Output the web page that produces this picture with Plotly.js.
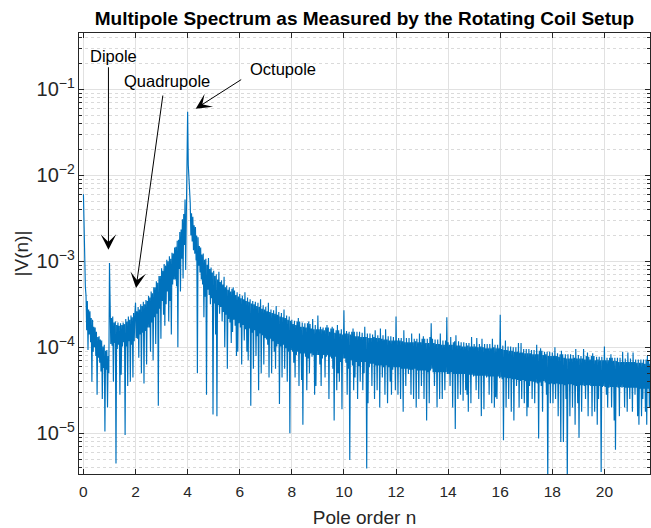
<!DOCTYPE html>
<html>
<head>
<meta charset="utf-8">
<script src="https://cdn.plot.ly/plotly-3.0.1.min.js"></script>
<style>html,body{margin:0;padding:0;background:#fff;}#chart{width:651px;height:528px;}</style>
</head>
<body>
<div id="chart"></div>
<script>
// Pole order sampling of the measured spectrum
const nStart = 0;
const nStep = 0.025;

// log10 |V(n)|, n = 0.000 ... 3.975
const logV_0to4 = [
-2.22,-2.70,-3.05,-3.30,-3.40,-3.80,-3.46,-4.03,-3.56,-3.85,-3.58,-3.94,-3.66,-4.40,-3.68,-4.05,-3.76,-4.00,-3.77,-4.10,
-3.82,-4.55,-3.88,-4.12,-3.87,-4.18,-3.91,-4.28,-3.92,-4.60,-3.99,-4.24,-3.97,-4.98,-4.04,-4.26,-4.03,-4.70,-4.10,-4.30,
-3.02,-3.60,-3.96,-3.66,-3.98,-3.64,-4.40,-3.71,-3.95,-3.70,-5.35,-3.74,-4.02,-3.71,-3.97,-3.75,-4.55,-3.72,-4.32,-3.74,
-3.99,-3.71,-3.94,-3.73,-5.02,-3.67,-3.99,-3.70,-4.45,-3.64,-3.93,-3.68,-4.40,-3.63,-3.97,-3.65,-4.35,-3.60,-3.93,-3.61,
-3.48,-3.89,-3.58,-3.90,-3.53,-4.12,-3.56,-3.85,-3.50,-4.30,-3.52,-3.83,-3.47,-4.42,-3.50,-3.81,-3.45,-4.20,-3.46,-3.77,
-3.40,-3.77,-3.42,-4.05,-3.35,-3.71,-3.37,-4.15,-3.30,-3.65,-3.30,-3.96,-3.23,-3.61,-3.25,-4.68,-3.17,-3.55,-3.17,-3.90,
-3.08,-3.46,-3.11,-3.62,-3.03,-3.75,-3.05,-3.50,-2.98,-3.35,-3.00,-3.70,-2.94,-3.46,-2.97,-3.85,-2.90,-3.27,-2.91,-3.21,
-2.84,-3.21,-2.83,-3.29,-2.76,-4.00,-2.75,-3.09,-2.66,-3.35,-2.63,-2.97,-2.51,-3.20,-2.45,-2.81,-2.28,-3.10,-2.13,-1.90
];
// n = 4.000 ... 7.975
const logV_4to8 = [
-1.26,-1.88,-2.05,-2.22,-2.32,-2.70,-2.44,-2.77,-2.48,-2.87,-2.58,-2.91,-2.60,-2.99,-2.70,-4.30,-2.72,-3.05,-2.82,-3.13,
-2.84,-3.21,-2.92,-3.27,-2.91,-3.65,-2.98,-3.41,-2.97,-4.55,-3.04,-3.33,-2.96,-3.39,-3.09,-3.50,-3.07,-3.43,-3.13,-4.78,
-3.11,-3.49,-3.17,-3.85,-3.15,-4.80,-3.21,-3.51,-3.12,-3.61,-3.24,-3.53,-3.22,-3.70,-3.27,-3.59,-3.18,-4.00,-3.30,-3.62,
-3.28,-4.25,-3.33,-3.67,-3.30,-3.71,-3.35,-3.95,-3.32,-3.82,-3.30,-3.68,-3.34,-3.75,-3.39,-4.10,-3.36,-4.05,-3.41,-3.72,
-3.38,-3.77,-3.43,-4.20,-3.40,-3.74,-3.44,-3.92,-3.36,-3.79,-3.46,-4.05,-3.42,-4.15,-3.47,-3.78,-3.44,-4.68,-3.49,-3.83,
-3.46,-4.25,-3.50,-3.80,-3.47,-4.10,-3.52,-3.87,-3.48,-4.50,-3.53,-3.84,-3.44,-4.30,-3.55,-3.86,-3.51,-4.20,-3.56,-3.89,
-3.53,-3.91,-3.58,-3.97,-3.48,-4.35,-3.59,-3.90,-3.56,-4.30,-3.60,-3.93,-3.57,-4.05,-3.61,-4.25,-3.52,-3.99,-3.62,-3.96,
-3.59,-4.66,-3.64,-3.99,-3.60,-4.35,-3.65,-3.97,-3.56,-4.25,-3.66,-4.01,-3.63,-4.40,-3.68,-4.05,-3.64,-5.00,-3.69,-4.03
];
// n = 8.000 ... 13.975
const logV_8to14 = [
-3.68,-4.05,-3.73,-4.18,-3.69,-4.35,-3.74,-4.09,-3.70,-4.05,-3.66,-4.45,-3.70,-4.07,-3.76,-4.38,-3.71,-4.90,-3.76,-4.07,
-3.72,-4.11,-3.77,-4.50,-3.72,-4.13,-3.70,-4.30,-3.73,-4.07,-3.78,-4.11,-3.67,-4.09,-3.79,-4.55,-3.74,-4.45,-3.79,-4.09,
-3.63,-4.09,-3.79,-4.20,-3.76,-4.45,-3.79,-4.13,-3.77,-4.09,-3.80,-4.35,-3.77,-4.11,-3.74,-4.09,-3.77,-4.60,-3.82,-4.11,
-3.78,-4.13,-3.76,-4.25,-3.78,-4.85,-3.83,-4.11,-3.80,-4.50,-3.74,-4.30,-3.80,-4.40,-3.84,-4.17,-3.79,-4.72,-3.85,-4.13,
-3.57,-4.13,-3.84,-4.18,-3.81,-4.55,-3.84,-4.25,-3.82,-5.31,-3.85,-4.15,-3.82,-4.21,-3.78,-4.50,-3.82,-4.35,-3.87,-4.17,
-3.82,-4.60,-3.87,-4.22,-3.82,-4.40,-3.88,-4.17,-3.83,-4.50,-3.88,-4.30,-3.76,-4.17,-3.88,-5.41,-3.84,-4.65,-3.89,-4.23,
-3.84,-4.19,-3.89,-4.45,-3.85,-4.19,-3.88,-4.60,-3.80,-4.21,-3.89,-4.50,-3.86,-4.21,-3.89,-4.70,-3.78,-4.21,-3.90,-4.35,
-3.86,-4.23,-3.91,-4.55,-3.79,-4.21,-3.91,-4.65,-3.87,-4.23,-3.92,-4.40,-3.87,-4.55,-3.92,-4.26,-3.88,-4.23,-3.92,-4.50,
-3.64,-4.23,-3.92,-4.55,-3.89,-4.23,-3.92,-4.60,-3.89,-4.25,-3.93,-4.75,-3.80,-4.25,-3.94,-4.45,-3.89,-4.25,-3.94,-4.31,
-3.89,-4.26,-3.94,-4.55,-3.84,-4.26,-3.94,-4.60,-3.90,-4.25,-3.93,-4.70,-3.90,-4.27,-3.94,-4.60,-3.84,-4.27,-3.94,-4.45,
-3.90,-4.27,-3.87,-4.60,-3.90,-4.27,-3.95,-4.85,-3.90,-4.29,-3.95,-4.65,-3.88,-4.27,-3.72,-4.25,-3.90,-4.29,-3.95,-4.45,
-3.91,-4.29,-3.96,-4.70,-3.91,-4.29,-3.96,-4.60,-3.84,-4.29,-3.97,-4.60,-3.92,-4.29,-3.97,-4.50,-3.92,-4.29,-3.65,-4.31
];
// n = 14.000 ... 21.750
const logV_14to22 = [
-3.94,-4.31,-3.97,-4.45,-3.88,-4.29,-3.97,-4.70,-3.94,-4.31,-3.93,-4.95,-3.86,-4.31,-3.98,-4.60,-3.93,-4.31,-3.98,-4.55,
-3.94,-4.31,-3.99,-4.62,-3.94,-4.31,-3.99,-4.50,-3.95,-4.55,-3.98,-4.75,-3.95,-4.32,-3.99,-4.65,-3.88,-4.32,-3.99,-4.34,
-3.96,-4.33,-3.99,-4.50,-3.89,-4.33,-4.00,-4.60,-3.96,-4.33,-3.99,-4.80,-3.90,-4.33,-4.00,-4.72,-3.96,-4.33,-4.01,-4.35,
-3.96,-4.34,-4.01,-4.55,-3.96,-4.34,-4.01,-4.65,-3.90,-4.34,-4.00,-4.70,-3.97,-4.58,-4.01,-4.60,-3.97,-4.34,-4.01,-4.36,
-3.62,-4.35,-4.02,-4.37,-3.98,-5.08,-4.03,-4.35,-3.92,-4.70,-4.03,-4.36,-3.99,-4.60,-4.04,-4.36,-3.99,-4.75,-4.04,-4.37,
-4.00,-4.85,-4.05,-4.37,-4.00,-4.45,-4.05,-4.38,-3.95,-4.70,-4.06,-4.39,-3.95,-4.60,-4.06,-4.38,-4.02,-4.65,-4.07,-4.39,
-4.02,-4.80,-4.07,-4.70,-4.02,-4.45,-4.07,-4.39,-4.03,-4.60,-4.08,-4.40,-4.03,-4.65,-4.08,-4.41,-3.97,-4.42,-4.08,-5.06,
-4.04,-4.41,-4.01,-4.45,-4.04,-4.75,-4.09,-4.39,-4.05,-4.41,-4.08,-4.55,-4.05,-5.60,-4.10,-4.43,-4.05,-4.65,-4.10,-4.42,
-4.06,-4.65,-4.10,-4.43,-4.00,-4.60,-4.10,-4.42,-4.07,-4.80,-4.11,-4.43,-4.08,-5.10,-4.04,-4.43,-4.08,-5.10,-4.12,-4.44,
-4.08,-4.60,-4.13,-5.60,-4.08,-4.43,-4.13,-4.80,-4.08,-4.43,-4.13,-4.70,-4.09,-4.44,-4.12,-4.90,-4.02,-4.45,-4.13,-4.65,
-4.09,-5.05,-4.13,-4.44,-4.10,-4.75,-4.13,-4.44,-4.02,-4.45,-4.14,-4.60,-4.10,-4.44,-4.06,-4.80,-4.11,-4.44,-4.14,-4.45,
-4.10,-4.80,-4.07,-4.45,-4.10,-4.75,-4.15,-4.45,-4.11,-4.90,-4.14,-4.60,-4.11,-4.45,-4.15,-5.45,-4.11,-4.46,-4.15,-4.45,
-3.99,-4.46,-4.15,-4.55,-4.12,-4.70,-4.15,-4.47,-4.12,-4.46,-4.08,-4.70,-4.12,-4.46,-4.16,-4.85,-4.12,-5.19,-4.16,-4.46,
-4.12,-4.47,-4.17,-4.80,-4.12,-4.46,-4.17,-4.47,-4.05,-4.46,-4.17,-4.70,-4.13,-4.47,-4.17,-4.75,-4.06,-4.47,-4.17,-4.60,
-4.13,-4.47,-4.17,-4.75,-4.06,-4.47,-4.17,-4.55,-4.14,-4.47,-4.18,-4.80,-4.14,-4.90,-4.18,-4.48,-4.14,-4.80,-4.18,-4.60,
-4.14,-4.48,-4.19,-4.75,-4.14,-4.90,-4.10,-4.48,-4.15,-4.70,-4.19
];

const xTickVals = [0,2,4,6,8,10,12,14,16,18,20];
const labels = ['Dipole','Quadrupole','Octupole'];

const logV = logV_0to4.concat(logV_4to8, logV_8to14, logV_14to22);
const V = logV.map(v => Math.pow(10, v));

const FONT = 'Liberation Sans, Arial, Helvetica, sans-serif';
const AX = '#262626';

const trace = {
  type: 'scatter', mode: 'lines',
  x0: nStart, dx: nStep, y: V,
  line: {color: '#0072BD', width: 1.15},
  hoverinfo: 'skip', showlegend: false
};

const arrowStyle = {xref: 'x', yref: 'y', text: '', showarrow: true,
  arrowhead: 3, arrowsize: 2.6, arrowwidth: 1, arrowcolor: '#000'};
const textStyle = {xref: 'x', yref: 'y', showarrow: false,
  font: {family: FONT, size: 16.5, color: '#000'}};

const layout = {
  width: 651, height: 528,
  margin: {l: 79, r: 1, t: 33, b: 54},
  paper_bgcolor: '#ffffff', plot_bgcolor: '#ffffff',
  font: {family: FONT, color: AX, size: 16},
  title: {
    text: 'Multipole Spectrum as Measured by the Rotating Coil Setup',
    font: {family: FONT, size: 19, color: '#000', weight: 'bold'},
    xref: 'paper', x: 0.5, xanchor: 'center',
    yref: 'container', y: 1 - 18/528, yanchor: 'middle'
  },
  xaxis: {
    range: [-0.17, 21.75],
    tickmode: 'array', tickvals: xTickVals, ticktext: xTickVals.map(String),
    ticks: 'inside', ticklen: 5, tickcolor: AX,
    showline: true, linecolor: AX, linewidth: 1, mirror: 'ticks',
    showgrid: true, gridcolor: '#e1e1e1', gridwidth: 1, zeroline: false,
    tickfont: {family: FONT, size: 15.5, color: AX},
    ticklabelstandoff: 3,
    title: {text: 'Pole order n', font: {family: FONT, size: 19, color: AX}, standoff: 12}
  },
  yaxis: {
    type: 'log', range: [-5.473, -0.344], dtick: 1,
    exponentformat: 'power', showexponent: 'all',
    ticks: 'inside', ticklen: 5, tickcolor: AX,
    showline: true, linecolor: AX, linewidth: 1, mirror: 'ticks',
    showgrid: true, gridcolor: '#e1e1e1', gridwidth: 1, zeroline: false,
    minor: {dtick: 'D1', ticks: 'inside', ticklen: 3, tickcolor: AX,
            showgrid: true, gridcolor: '#dadada', griddash: 'dot', gridwidth: 1},
    tickfont: {family: FONT, size: 16, color: AX},
    title: {text: '|V(n)|', font: {family: FONT, size: 19, color: AX}, standoff: 2}
  },
  annotations: [
    Object.assign({x: 1.17, y: -0.608, text: labels[0]}, textStyle),
    Object.assign({x: 3.22, y: -0.907, text: labels[1]}, textStyle),
    Object.assign({x: 7.65, y: -0.763, text: labels[2]}, textStyle),
    Object.assign({}, arrowStyle, {x: 0.96, y: -2.865, ax: 0, ay: -184}),
    Object.assign({}, arrowStyle, {x: 2.02, y: -3.31, ax: 27, ay: -194}),
    Object.assign({}, arrowStyle, {x: 4.31, y: -1.224, ax: 47, ay: -30})
  ]
};

Plotly.newPlot('chart', [trace], layout, {staticPlot: true, displayModeBar: false});
</script>
</body>
</html>
